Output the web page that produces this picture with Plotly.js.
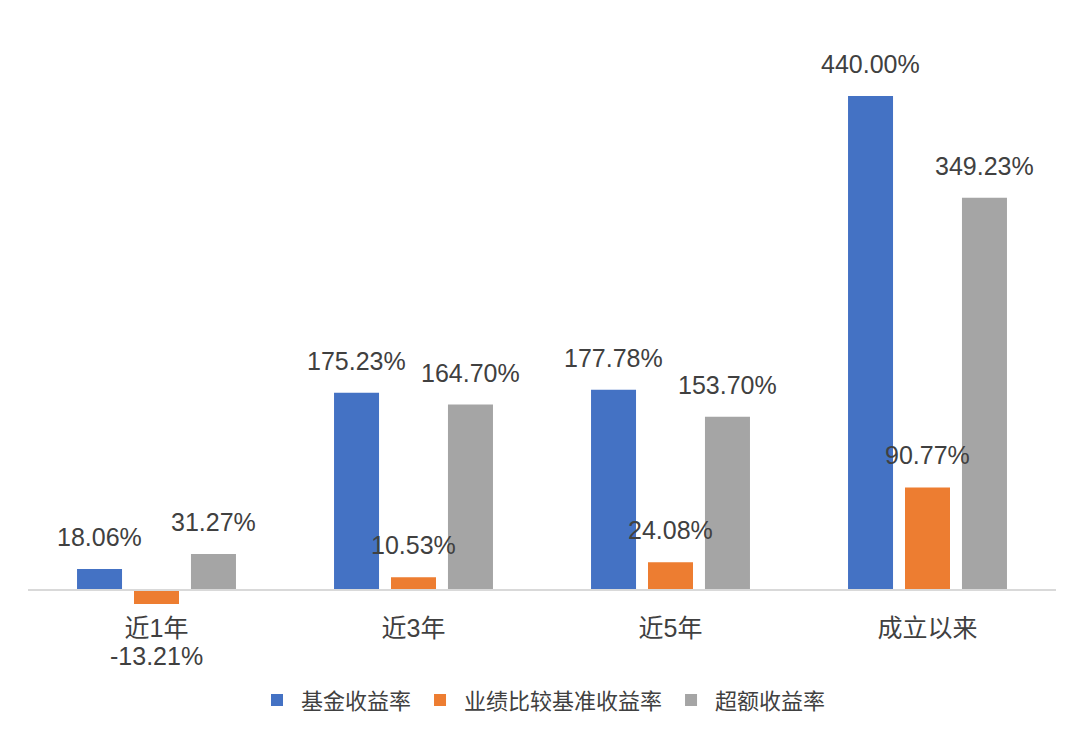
<!DOCTYPE html>
<html>
<head>
<meta charset="utf-8">
<script src="https://cdn.plot.ly/plotly-3.0.1.min.js"></script>
<style>html,body{margin:0;padding:0;background:#fff;}#chart{width:1080px;height:732px;}</style>
</head>
<body>
<div id="chart"></div>
<script>
var categories = ["近1年", "近3年", "近5年", "成立以来"];
var seriesNames = ["基金收益率", "业绩比较基准收益率", "超额收益率"];
var fundReturn = [18.06, 175.23, 177.78, 440.00];
var benchmarkReturn = [-13.21, 10.53, 24.08, 90.77];
var excessReturn = [31.27, 164.70, 153.70, 349.23];
var colors = ["#4472C4", "#ED7D31", "#A5A5A5"];

(function () {
  var allSeries = [fundReturn, benchmarkReturn, excessReturn];
  var bargap = 0.335, bargroupgap = 0.21;
  var slot = (1 - bargap) / 3;

  var font = "Liberation Sans, Arial, Noto Sans CJK SC, sans-serif";
  var traces = allSeries.map(function (vals, s) {
    return {
      type: "bar",
      name: seriesNames[s],
      x: categories,
      y: vals,
      marker: {color: colors[s]},
      hoverinfo: "none"
    };
  });

  var annotations = [];
  allSeries.forEach(function (vals, s) {
    vals.forEach(function (v, i) {
      annotations.push({
        x: i + (s - 1) * slot,
        y: v,
        xref: "x", yref: "y",
        text: v.toFixed(2) + "%",
        showarrow: false,
        yshift: v >= 0 ? 32 : -52,
        font: {family: font, size: 25, color: "#404040"}
      });
    });
  });

  var plotTop = 40, plotBottom = 670, zeroY = 590, pxPerUnit = (590 - 96) / 440;
  var layout = {
    width: 1080, height: 732,
    margin: {l: 28, r: 24, t: plotTop, b: 732 - plotBottom},
    paper_bgcolor: "#ffffff", plot_bgcolor: "#ffffff",
    barmode: "group",
    bargap: bargap, bargroupgap: bargroupgap,
    showlegend: true,
    legend: {
      orientation: "h", x: 0.5, xanchor: "center", y: -0.048, yanchor: "middle",
      font: {family: font, size: 22, color: "#404040"},
      itemwidth: 38,
      traceorder: "normal"
    },
    xaxis: {
      type: "category",
      anchor: "free",
      position: (plotBottom - zeroY) / (plotBottom - plotTop),
      showline: true, linecolor: "#d9d9d9", linewidth: 1.5,
      showgrid: false, zeroline: false,
      ticks: "",
      ticklabelstandoff: 16,
      tickfont: {family: font, size: 25, color: "#404040"}
    },
    yaxis: {
      range: [-(plotBottom - zeroY) / pxPerUnit, (zeroY - plotTop) / pxPerUnit],
      showgrid: false, zeroline: false, showticklabels: false, showline: false, ticks: ""
    },
    annotations: annotations
  };

  Plotly.newPlot("chart", traces, layout, {displayModeBar: false, staticPlot: true});
})();
</script>
</body>
</html>
